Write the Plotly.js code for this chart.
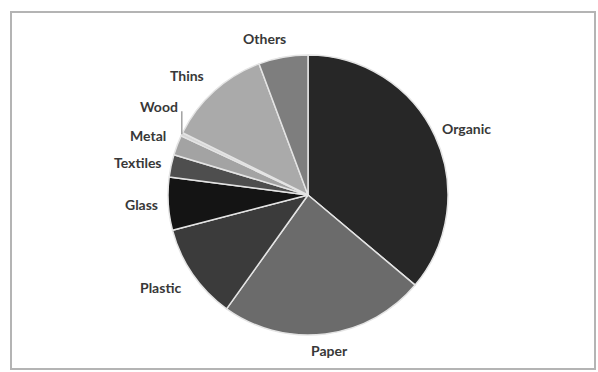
<!DOCTYPE html>
<html>
<head>
<meta charset="utf-8">
<script src="https://cdn.plot.ly/plotly-3.0.1.min.js"></script>
<style>html,body{margin:0;padding:0;background:#fff;}#chart{width:598px;height:372px;}</style>
</head>
<body>
<div id="chart"></div>
<script>
const categories = ["Organic", "Paper", "Plastic", "Glass", "Textiles", "Metal", "Wood", "Thins", "Others"];
const shares = [36.2, 23.8, 11.1, 6.1, 2.6, 2.3, 0.4, 12.0, 5.7];
const sliceColors = ["#272727", "#6b6b6b", "#3b3b3b", "#141414", "#4e4e4e", "#a3a3a3", "#d6d6d6", "#aaaaaa", "#7e7e7e"];

const W = 598, H = 372;
const CX = 308, CY = 195, R = 140;   // pie centre and radius in pixels
const GAP = 10;                      // gap between pie edge and label box
const FONT_SIZE = 14;
const labelFont = { family: "Lato, Open Sans, sans-serif", size: FONT_SIZE, color: "#383838", weight: "bold" };
// small hand nudges (pixels) mimicking the original chart's label placement
const nudge = { Others: [-13, -2], Thins: [-9, -3], Plastic: [-7, 4], Metal: [-3, -4] };

const ctx = document.createElement("canvas").getContext("2d");
ctx.font = "bold " + FONT_SIZE + "px Lato";
const textW = s => ctx.measureText(s).width;
const TEXT_H = FONT_SIZE;

const trace = {
  type: "pie",
  labels: categories,
  values: shares,
  sort: false,
  direction: "clockwise",
  rotation: 0,
  textinfo: "none",
  hoverinfo: "label+percent",
  marker: { colors: sliceColors, line: { color: "#e4e4e4", width: 1.5 } },
  domain: { x: [(CX - R) / W, (CX + R) / W], y: [1 - (CY + R) / H, 1 - (CY - R) / H] },
  showlegend: false
};

const total = shares.reduce((a, b) => a + b, 0);
let cum = 0;
const annotations = [];
const shapes = [{
  type: "rect", xref: "paper", yref: "paper",
  x0: 11 / W, x1: 595 / W, y0: 1 - 369 / H, y1: 1 - 12 / H,
  line: { color: "#b4b4b4", width: 2 }, fillcolor: "rgba(0,0,0,0)"
}];

categories.forEach((name, i) => {
  const mid = (cum + shares[i] / 2) / total * 2 * Math.PI;
  cum += shares[i];
  const s = Math.sin(mid), c = Math.cos(mid);
  if (name === "Wood") {
    const ex = CX + R * s, ey = CY - R * c;
    shapes.push({
      type: "line", xref: "paper", yref: "paper",
      x0: ex / W, x1: ex / W, y0: 1 - ey / H, y1: 1 - (ey - 23) / H,
      line: { color: "#8a8a8a", width: 1.2 }
    });
    annotations.push({
      xref: "paper", yref: "paper", x: (ex - 2) / W, y: 1 - (ey - 28) / H,
      text: name, font: labelFont, showarrow: false, xanchor: "right", yanchor: "middle"
    });
    return;
  }
  const px = CX + (R + GAP) * s, py = CY - (R + GAP) * c;
  const n = nudge[name] || [0, 0];
  const bx = px + s * textW(name) / 2 + n[0];
  const by = py - c * TEXT_H / 2 + n[1];
  annotations.push({
    xref: "paper", yref: "paper", x: bx / W, y: 1 - by / H,
    text: name, font: labelFont, showarrow: false, xanchor: "center", yanchor: "middle"
  });
});

const layout = {
  width: W,
  height: H,
  margin: { l: 0, r: 0, t: 0, b: 0 },
  paper_bgcolor: "#ffffff",
  showlegend: false,
  annotations: annotations,
  shapes: shapes
};

Plotly.newPlot("chart", [trace], layout, { staticPlot: true });
</script>
</body>
</html>
